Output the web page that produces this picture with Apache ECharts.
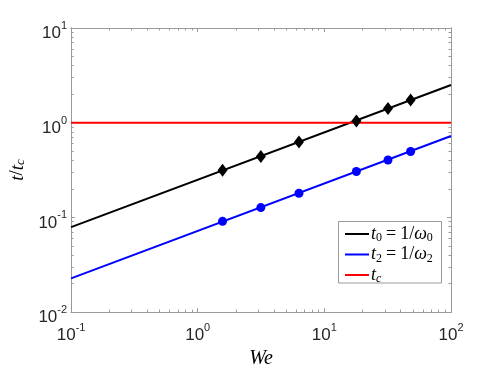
<!DOCTYPE html>
<html><head><meta charset="utf-8">
<script src="https://cdn.jsdelivr.net/npm/echarts@6/dist/echarts.min.js"></script>
<style>html,body{margin:0;padding:0;background:#fff}#c{width:498px;height:374px}</style>
</head><body><div id="c"></div>
<script>
// ---- data ----
const xTicks = [0.1, 1, 10, 100];
const yTicks = [0.01, 0.1, 1, 10];
const weMarkers = [1.57, 3.15, 6.3, 17.9, 31.8, 48];
const t0Markers = [0.315, 0.44, 0.625, 1.04, 1.41, 1.74];
const t2Markers = [0.0908, 0.127, 0.180, 0.305, 0.404, 0.497];
const lineWe = [0.1, 100];
const t0Line = [0.079, 2.5];
const t2Line = [0.0227, 0.723];
const tcLine = [1.0, 1.0];

const AX = '#9a9a9a';
const TXT = '#262626';

function minorTicks(ticks) {
  const out = [];
  for (let i = 0; i < ticks.length - 1; i++)
    for (let k = 2; k <= 9; k++) out.push(+(k * ticks[i]).toPrecision(6));
  return out;
}
const xMinor = minorTicks(xTicks);
const yMinor = minorTicks(yTicks);

const labelRich = {
  b: {fontSize: 17, fontFamily: 'Liberation Sans', color: TXT, padding: [11, 0, 0, 0]},
  s: {fontSize: 11, fontFamily: 'Liberation Sans', color: TXT, verticalAlign: 'top', padding: [6.5, 0, 0, 0]}
};
const fmt = v => '{b|10}{s|' + Math.round(Math.log10(v)) + '}';

const serifRich = {
  i: {fontFamily: 'Liberation Serif', fontStyle: 'italic', fontSize: 18, color: '#000', lineHeight: 16},
  n: {fontFamily: 'Liberation Serif', fontSize: 18, color: '#000', lineHeight: 16},
  eq: {fontFamily: 'Liberation Serif', fontSize: 18, color: '#000', lineHeight: 16, padding: [0, 4, 0, 4]},
  sub: {fontFamily: 'Liberation Serif', fontSize: 12, color: '#000', verticalAlign: 'bottom', lineHeight: 10, padding: [0, 0, -2, 0]},
  subi: {fontFamily: 'Liberation Serif', fontStyle: 'italic', fontSize: 12, color: '#000', verticalAlign: 'bottom', lineHeight: 10, padding: [0, 0, -2, 0]}
};
const legendText = {
  t0: '{i|t}{sub|0}{eq|=}{n|1/}{i|ω}{sub|0}',
  t2: '{i|t}{sub|2}{eq|=}{n|1/}{i|ω}{sub|2}',
  tc: '{i|t}{subi|c}'
};

function xAx(pos, custom, len, labels) {
  return {
    type: 'log', logBase: 10, min: 0.1, max: 100, position: pos,
    axisLine: {show: true, lineStyle: {color: AX, width: 1}},
    axisTick: {show: true, inside: true, length: len, customValues: custom, lineStyle: {color: AX}},
    axisLabel: labels ? {show: true, customValues: xTicks, formatter: fmt, rich: labelRich, margin: 4} : {show: false},
    splitLine: {show: false}, minorTick: {show: false}
  };
}
function yAx(pos, custom, len, labels) {
  return {
    type: 'log', logBase: 10, min: 0.01, max: 10, position: pos,
    axisLine: {show: true, lineStyle: {color: AX, width: 1}},
    axisTick: {show: true, inside: true, length: len, customValues: custom, lineStyle: {color: AX}},
    axisLabel: labels ? {show: true, customValues: yTicks, formatter: fmt, rich: labelRich, margin: 4} : {show: false},
    splitLine: {show: false}, minorTick: {show: false}
  };
}

const xAxes = [xAx('bottom', xTicks, 4, true), xAx('top', xTicks, 4, false), xAx('bottom', xMinor, 2.5, false), xAx('top', xMinor, 2.5, false)];
xAxes[0].name = 'We';
xAxes[0].nameLocation = 'middle';
xAxes[0].nameGap = 33;
xAxes[0].nameTextStyle = {fontFamily: 'Liberation Serif', fontStyle: 'italic', fontSize: 20, color: '#000'};

const yAxes = [yAx('left', yTicks, 4, true), yAx('right', yTicks, 4, false), yAx('left', yMinor, 2.5, false), yAx('right', yMinor, 2.5, false)];
yAxes[0].name = '{i|t}{n|/}{i|t}{subi|c}';
yAxes[0].nameLocation = 'middle';
yAxes[0].nameRotate = 90;
yAxes[0].nameGap = 42;
yAxes[0].nameTextStyle = {rich: {
  i: {fontFamily: 'Liberation Serif', fontStyle: 'italic', fontSize: 19, color: '#000', lineHeight: 20},
  n: {fontFamily: 'Liberation Serif', fontSize: 19, color: '#000', lineHeight: 20},
  subi: {fontFamily: 'Liberation Serif', fontStyle: 'italic', fontSize: 13, color: '#000', verticalAlign: 'bottom', lineHeight: 10}
}};

const zip = (a, b) => a.map((v, i) => [v, b[i]]);

const chart = echarts.init(document.getElementById('c'), null, {renderer: 'canvas'});
chart.setOption({
  animation: false,
  backgroundColor: '#fff',
  grid: {left: 64, right: 47, top: 28, bottom: 57, containLabel: false},
  xAxis: xAxes,
  yAxis: yAxes,
  legend: {
    left: 344, top: 225, orient: 'vertical', itemWidth: 24, itemHeight: 14, itemGap: 1.5,
    padding: 0, data: ['t0', 't2', 'tc'],
    itemStyle: {opacity: 0},
    formatter: n => legendText[n],
    textStyle: {rich: serifRich, padding: [0, 0, 0, -3]}
  },
  graphic: [{
    type: 'rect', z: 3, shape: {x: 338.5, y: 221.5, width: 103, height: 61.5},
    style: {fill: '#fff', stroke: AX, lineWidth: 1}
  }],
  series: [
    {name: 't0', type: 'line', data: zip(lineWe, t0Line), symbol: 'none', lineStyle: {color: '#000', width: 2}, itemStyle: {color: '#000'}, z: 2},
    {name: 't2', type: 'line', data: zip(lineWe, t2Line), symbol: 'none', lineStyle: {color: '#0000ff', width: 2}, itemStyle: {color: '#0000ff'}, z: 2},
    {name: 'tc', type: 'line', data: zip(lineWe, tcLine), symbol: 'none', lineStyle: {color: '#ff0000', width: 2}, itemStyle: {color: '#ff0000'}, z: 2},
    {name: 't0m', type: 'scatter', data: zip(weMarkers, t0Markers), symbol: 'diamond', symbolSize: [10, 13], itemStyle: {color: '#000', opacity: 1}, z: 3},
    {name: 't2m', type: 'scatter', data: zip(weMarkers, t2Markers), symbol: 'circle', symbolSize: 9, itemStyle: {color: '#0000ff', opacity: 1}, z: 3}
  ]
});
</script></body></html>
